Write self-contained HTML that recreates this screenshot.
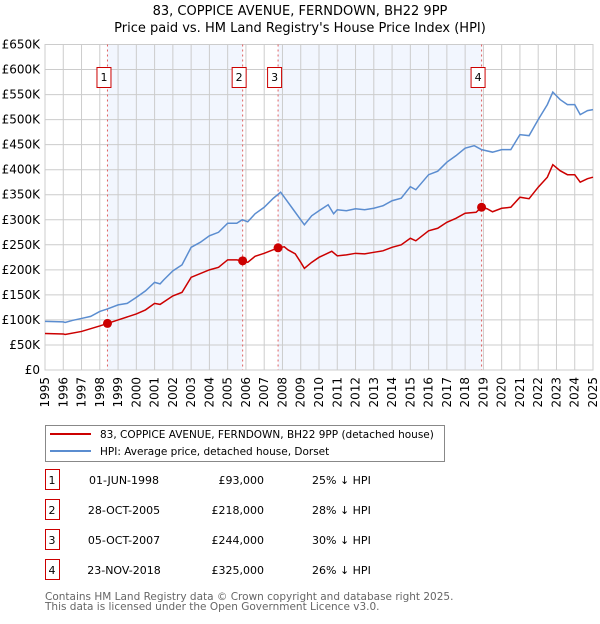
<!DOCTYPE html>
<html><head><meta charset="utf-8"><style>
body{margin:0;width:600px;height:620px;background:#fff;font-family:"DejaVu Sans","Liberation Sans",sans-serif;overflow:hidden}
svg text{font-family:"DejaVu Sans","Liberation Sans",sans-serif}
</style></head><body>
<svg id="c" width="600" height="620" xmlns="http://www.w3.org/2000/svg">
<text x="300" y="15" text-anchor="middle" font-size="13">83, COPPICE AVENUE, FERNDOWN, BH22 9PP</text>
<text x="300" y="32" text-anchor="middle" font-size="13">Price paid vs. HM Land Registry's House Price Index (HPI)</text>
<g id="plot"></g>
<g>
<rect x="45.5" y="425.5" width="399" height="36" fill="#fff" stroke="#888"/>
<line x1="50" y1="434" x2="91" y2="434" stroke="#cc0000" stroke-width="2"/>
<text x="100" y="438" font-size="10.5">83, COPPICE AVENUE, FERNDOWN, BH22 9PP (detached house)</text>
<line x1="50" y1="451" x2="91" y2="451" stroke="#5b8dd0" stroke-width="2"/>
<text x="100" y="455" font-size="10.5">HPI: Average price, detached house, Dorset</text>
</g>
<g id="table" font-size="11"></g>
<text x="45" y="600" font-size="10.5" fill="#666">Contains HM Land Registry data © Crown copyright and database right 2025.</text>
<text x="45" y="610" font-size="10.5" fill="#666">This data is licensed under the Open Government Licence v3.0.</text>
</svg>
<script>
const yTicks=[0,50,100,150,200,250,300,350,400,450,500,550,600,650];
const yTickLabels=["£0","£50K","£100K","£150K","£200K","£250K","£300K","£350K","£400K","£450K","£500K","£550K","£600K","£650K"];
const years=[1995,1996,1997,1998,1999,2000,2001,2002,2003,2004,2005,2006,2007,2008,2009,2010,2011,2012,2013,2014,2015,2016,2017,2018,2019,2020,2021,2022,2023,2024,2025];
const hpiT=[1995,1996,1996.1,1996.5,1997,1997.5,1998,1998.42,1999,1999.5,2000,2000.5,2001,2001.3,2001.5,2002,2002.5,2003,2003.5,2004,2004.5,2005,2005.5,2005.8,2006.1,2006.5,2007,2007.5,2007.9,2008.2,2008.6,2009,2009.2,2009.6,2010,2010.5,2010.8,2011,2011.5,2012,2012.5,2013,2013.5,2014,2014.5,2015,2015.3,2016,2016.5,2017,2017.5,2018,2018.5,2018.9,2019.5,2020,2020.5,2021,2021.5,2022,2022.5,2022.8,2023.2,2023.6,2024,2024.3,2024.7,2025];
const hpiV=[97,96,95,99,103,107,117,122,130,133,145,158,175,172,180,198,210,245,255,268,275,293,293,300,296,312,325,343,355,340,320,300,290,308,318,330,312,320,318,322,320,323,328,338,343,366,360,390,397,415,428,443,448,440,435,440,440,470,468,500,530,555,540,530,530,510,518,520];
const priceT=[1995,1996,1996.1,1997,1998,1998.42,1999,2000,2000.5,2001,2001.3,2002,2002.5,2003,2004,2004.5,2005,2005.5,2005.82,2006.1,2006.5,2007,2007.76,2008.1,2008.3,2008.7,2009,2009.2,2009.6,2010,2010.7,2011,2011.5,2012,2012.5,2013,2013.5,2014,2014.5,2015,2015.3,2016,2016.5,2017,2017.5,2018,2018.6,2018.9,2019.2,2019.5,2020,2020.5,2021,2021.5,2022,2022.5,2022.8,2023.2,2023.6,2024,2024.3,2024.7,2025];
const priceV=[73,72,71,77,88,93,100,112,120,133,131,148,155,185,200,205,220,220,218,215,227,233,244,246,240,232,215,203,215,225,237,228,230,233,232,235,238,245,250,263,258,278,283,295,303,313,315,325,322,316,323,325,345,342,365,385,410,398,390,390,375,382,385];
const saleLabels=["1","2","3","4"];
const saleT=[1998.42,2005.82,2007.76,2018.9];
const saleV=[93,218,244,325];
const saleDates=["01-JUN-1998","28-OCT-2005","05-OCT-2007","23-NOV-2018"];
const salePrices=["£93,000","£218,000","£244,000","£325,000"];
const salePct=["25% ↓ HPI","28% ↓ HPI","30% ↓ HPI","26% ↓ HPI"];

const X0=45,X1=593,Y0=370,Y1=44.5;
const x=t=>X0+(t-1995)/30*(X1-X0);
const y=v=>Y0-v/650*(Y0-Y1);
const NS="http://www.w3.org/2000/svg";
const plot=document.getElementById('plot');
function mk(tag,attrs,parent){const e=document.createElementNS(NS,tag);for(const k in attrs)e.setAttribute(k,attrs[k]);(parent||plot).appendChild(e);return e;}
for(const [a,b] of [[0,1],[2,3]]){
 const r=mk('rect',{x:x(saleT[a]),y:Y1,width:x(saleT[b])-x(saleT[a]),height:Y0-Y1,fill:'#f2f6fe'});
 
 
}
yTicks.forEach((v,i)=>{
 const l=mk('line',{x1:X0,x2:X1,y1:y(v),y2:y(v),stroke:'#cccccc','stroke-width':1});
 
 
 const t=mk('text',{x:40,y:y(v)+4,'text-anchor':'end','font-size':12});
 
 
 t.textContent=yTickLabels[i];
});
years.forEach(yr=>{
 const l=mk('line',{x1:x(yr),x2:x(yr),y1:Y1,y2:Y0,stroke:'#cccccc','stroke-width':1});
 
 
 const t=mk('text',{x:0,y:0,'text-anchor':'end','font-size':12,transform:`translate(${x(yr)+4},${Y0+7}) rotate(-90)`});
 
 
 t.textContent=yr;
});
const border=mk('rect',{x:X0,y:Y1,width:X1-X0,height:Y0-Y1,fill:'none',stroke:'#cccccc'});


saleT.forEach((t,i)=>{
 const l=mk('line',{x1:x(t),x2:x(t),y1:Y1,y2:Y0,stroke:'#e06060','stroke-width':1,'stroke-dasharray':'2,3'});
 
 
 const r=mk('rect',{x:x(t)-10.5,y:67.5,width:14,height:20,fill:'#fff',stroke:'#cc0000'});
 
 
 const tx=mk('text',{x:x(t)-3.5,y:81,'text-anchor':'middle','font-size':11});
 
 
 tx.textContent=saleLabels[i];
});
const hp=mk('polyline',{points:hpiT.map((t,i)=>x(t)+','+y(hpiV[i])).join(' '),fill:'none',stroke:'#5b8dd0','stroke-width':1.5});


const pp=mk('polyline',{points:priceT.map((t,i)=>x(t)+','+y(priceV[i])).join(' '),fill:'none',stroke:'#cc0000','stroke-width':1.5});


saleT.forEach((t,i)=>{
 const c=mk('circle',{cx:x(t),cy:y(saleV[i]),r:4.5,fill:'#cc0000'});
 
 
});
const tb=document.getElementById('table');
saleLabels.forEach((s,i)=>{
 const yy=483+i*30;
 const r=mk('rect',{x:45.5,y:yy-13.5,width:14,height:20,fill:'#fff',stroke:'#cc0000'},tb);
 
 
 const cols=[[52,'middle',s,'table-row-number'],[124,'middle',saleDates[i],'table-row-date'],[264,'end',salePrices[i],'table-row-price'],[312,'start',salePct[i],'table-row-hpi-diff']];
 cols.forEach(c=>{
  const t=mk('text',{x:c[0],y:yy+1,'text-anchor':c[1],'font-size':11},tb);
  
  
  t.textContent=c[2];
 });
});
</script>
</body></html>
